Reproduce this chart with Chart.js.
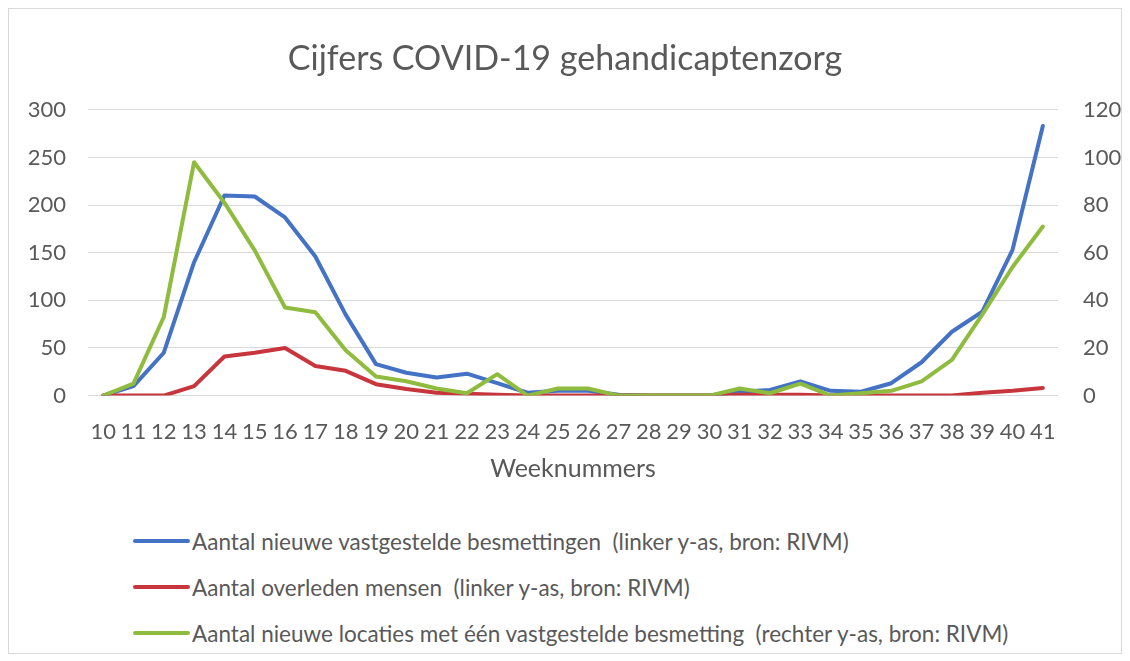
<!DOCTYPE html>
<html>
<head>
<meta charset="utf-8">
<script src="https://cdn.jsdelivr.net/npm/chart.js@4.4.1/dist/chart.umd.min.js"></script>
<style>
  html, body { margin: 0; padding: 0; background: #fff; }
  body { width: 1130px; height: 661px; position: relative; overflow: hidden; font-family: Lato, "Open Sans", sans-serif; }
  #frame { position: absolute; left: 8px; top: 8px; width: 1114px; height: 646px; border: 1px solid #d9d9d9; box-sizing: border-box; }
  #chartWrap { position: absolute; left: 0; top: 0; width: 1130px; height: 500px; }
  #legend { position: absolute; left: 133px; top: 518px; }
  .legend-item { display: flex; align-items: center; height: 46px; font-size: 22.5px; color: #595959; white-space: pre; }
  .legend-line { width: 57px; height: 4px; border-radius: 2px; margin-right: 2px; }
</style>
</head>
<body>
<div id="frame"></div>
<div id="chartWrap"><canvas id="covidChart" width="1130" height="500"></canvas></div>
<div id="legend"></div>
<script>
// Week numbers (x-axis categories)
const weeks = [
  "10", "11", "12", "13", "14", "15", "16", "17", "18", "19", "20",
  "21", "22", "23", "24", "25", "26", "27", "28", "29", "30", "31",
  "32", "33", "34", "35", "36", "37", "38", "39", "40", "41",
];

// Left y-axis series
const newInfections = [
  0, 10, 45, 140, 210, 209, 187, 146, 85, 33, 24,
  19, 23, 13, 3, 5, 5, 1, 0, 0, 0, 4,
  6, 15, 5, 4, 13, 35, 67, 88, 153, 283,
];
const deaths = [
  0, 0, 0, 10, 41, 45, 50, 31, 26, 12, 7,
  3, 2, 1, 0, 0, 0, 0, 0, 0, 0, 1,
  1, 1, 0, 0, 0, 0, 0, 3, 5, 8,
];

// Right y-axis series
const newLocations = [
  0, 5, 33, 98, 81, 61, 37, 35, 19, 8, 6,
  3, 1, 9, 0, 3, 3, 0, 0, 0, 0, 3,
  1, 5, 0, 1, 2, 6, 15, 34, 54, 71,
];

const seriesLabels = [
  "Aantal nieuwe vastgestelde besmettingen  (linker y-as, bron: RIVM)",
  "Aantal overleden mensen  (linker y-as, bron: RIVM)",
  "Aantal nieuwe locaties met één vastgestelde besmetting  (rechter y-as, bron: RIVM)",
];

const TEXT_COLOR = "#595959";
const GRID_COLOR = "#d9d9d9";
const FONT = "Lato, 'Open Sans', sans-serif";

function lineDataset(label, data, color, axis, order) {
  return {
    label: label,
    data: data,
    yAxisID: axis,
    borderColor: color,
    backgroundColor: color,
    borderWidth: 4,
    pointRadius: 0,
    tension: 0,
    borderJoinStyle: "round",
    borderCapStyle: "round",
    order: order,
  };
}

const ctx = document.getElementById("covidChart").getContext("2d");
const covidChart = new Chart(ctx, {
  type: "line",
  data: {
    labels: weeks,
    datasets: [
      lineDataset(seriesLabels[0], newInfections, "#4472c4", "yLeft", 3),
      lineDataset(seriesLabels[1], deaths, "#c8363d", "yLeft", 2),
      lineDataset(seriesLabels[2], newLocations, "#8fbc3f", "yRight", 1),
    ],
  },
  options: {
    responsive: false,
    animation: false,
    layout: { padding: { left: 0, right: 0, top: 0, bottom: 16 } },
    plugins: {
      legend: { display: false },
      tooltip: { enabled: false },
      title: {
        display: true,
        text: "Cijfers COVID-19 gehandicaptenzorg",
        color: TEXT_COLOR,
        font: { family: FONT, size: 34, weight: "normal" },
        padding: { top: 39, bottom: 30 },
      },
    },
    scales: {
      x: {
        type: "category",
        offset: true,
        grid: { display: false, drawTicks: true, tickLength: 23 },
        border: { display: false },
        ticks: {
          color: TEXT_COLOR,
          font: { family: FONT, size: 22 },
          padding: 0,
          maxRotation: 0,
          autoSkip: false,
        },
        title: {
          display: true,
          text: "Weeknummers",
          color: TEXT_COLOR,
          font: { family: FONT, size: 25 },
          padding: { top: 9, bottom: 0 },
        },
      },
      yLeft: {
        position: "left",
        min: 0,
        max: 300,
        ticks: {
          stepSize: 50,
          color: TEXT_COLOR,
          font: { family: FONT, size: 22 },
          padding: 22,
        },
        grid: { color: GRID_COLOR, lineWidth: 1, drawTicks: false },
        border: { display: false },
        afterFit: (scale) => { scale.width = 88; },
      },
      yRight: {
        position: "right",
        min: 0,
        max: 120,
        ticks: {
          stepSize: 20,
          color: TEXT_COLOR,
          font: { family: FONT, size: 22 },
          padding: 25,
        },
        grid: { display: false, drawTicks: false },
        border: { display: false },
        afterFit: (scale) => { scale.width = 72; },
      },
    },
  },
});

// HTML legend built from the chart's datasets (vertical, left aligned)
const legendEl = document.getElementById("legend");
covidChart.data.datasets.forEach((ds) => {
  const item = document.createElement("div");
  item.className = "legend-item";
  const line = document.createElement("span");
  line.className = "legend-line";
  line.style.background = ds.borderColor;
  const text = document.createElement("span");
  text.textContent = ds.label;
  item.appendChild(line);
  item.appendChild(text);
  legendEl.appendChild(item);
});
</script>
</body>
</html>
